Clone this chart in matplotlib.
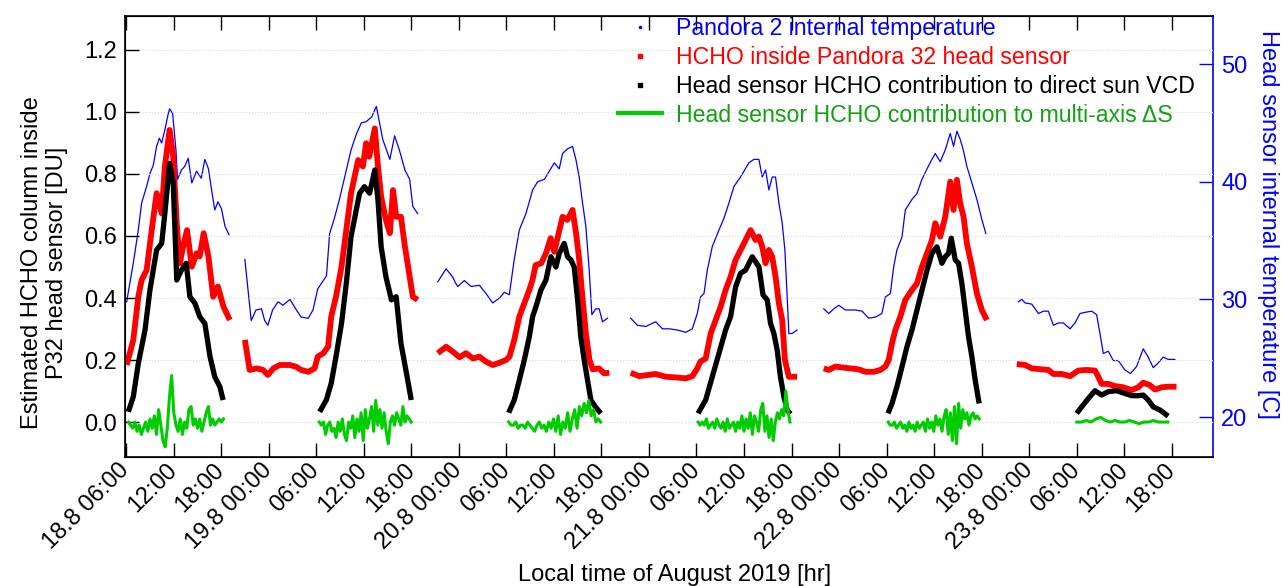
import numpy as np
import matplotlib
matplotlib.use("Agg")
from matplotlib import pyplot as plt
from matplotlib.lines import Line2D

# time axis: hours since 18.8.2019 00:00 local time
# each series is a list of segments, each segment a list of (hour, value)
temp_segments = [
    [(6.08, 29.8), (6.92, 33.1), (7.55, 35.9), (7.97, 38.2), (8.60, 39.6), (9.02, 40.7),
     (9.44, 41.4), (9.86, 43.0), (10.2, 43.7), (10.5, 43.3), (10.9, 44.4), (11.3, 45.7),
     (11.5, 46.2), (11.88, 45.8), (12.3, 42.7), (12.5, 40.2), (13.0, 41.0), (13.4, 41.3),
     (13.85, 42.0), (14.3, 39.9), (14.9, 40.9), (15.5, 40.3), (15.95, 41.9), (16.4, 41.1),
     (16.8, 39.3), (17.2, 37.6), (17.6, 38.3), (18.05, 37.7), (18.5, 36.2), (19.0, 35.5)],
    [(21.0, 33.4), (21.4, 30.8), (21.8, 28.2), (22.4, 29.1), (23.1, 29.2), (23.5, 28.2),
     (23.9, 27.8), (24.5, 29.1), (25.2, 29.8), (25.8, 29.5), (26.7, 30.0), (27.5, 29.1),
     (28.1, 28.5), (29.0, 28.4), (29.6, 29.1), (30.2, 30.9), (30.9, 31.6), (31.3, 32.0),
     (31.7, 35.6), (32.3, 36.9), (32.9, 38.4), (33.8, 41.0), (34.4, 42.7), (35.1, 44.1),
     (35.7, 45.0), (36.3, 45.1), (37.0, 45.5), (37.6, 46.4), (38.0, 45.0), (38.4, 43.6),
     (39.3, 41.9), (39.9, 43.9), (40.5, 42.7), (41.2, 41.0), (41.8, 40.2), (42.2, 37.9),
     (42.8, 37.3)],
    [(45.35, 31.5), (46.4, 32.6), (47.24, 31.9), (47.58, 31.4), (47.87, 31.1), (48.7, 31.6),
     (49.55, 31.1), (50.6, 31.2), (51.44, 30.5), (52.28, 29.7), (53.12, 30.1), (53.75, 30.6),
     (54.38, 30.4), (55.0, 33.4), (55.64, 35.9), (56.48, 37.3), (57.32, 39.3), (57.95, 40.0),
     (58.8, 40.2), (59.42, 40.9), (60.05, 41.6), (60.68, 41.1), (61.1, 42.4), (61.73, 42.8),
     (62.36, 43.0), (62.78, 41.9), (63.2, 40.4), (63.62, 38.2), (64.04, 36.2), (64.46, 32.5),
     (64.8, 28.7), (65.3, 29.2), (65.72, 29.2), (66.14, 28.1), (66.77, 28.4)],
    [(69.7, 28.4), (70.55, 27.8), (71.6, 27.7), (72.86, 28.1), (73.7, 27.5), (74.54, 27.5),
     (75.6, 27.4), (76.64, 27.2), (77.48, 27.5), (78.1, 28.8), (78.5, 30.2), (78.95, 30.5),
     (79.37, 32.5), (80.0, 34.5), (80.84, 35.9), (81.47, 36.9), (82.1, 38.2), (82.73, 39.6),
     (83.36, 40.2), (84.0, 40.9), (84.6, 41.6), (85.25, 41.9), (85.88, 41.9), (86.3, 40.4),
     (86.72, 41.0), (87.14, 39.3), (87.56, 40.4), (87.98, 40.4), (88.4, 38.2), (88.82, 36.5),
     (89.16, 34.2), (89.45, 30.2), (89.66, 27.1), (90.08, 27.1), (90.7, 27.4)],
    [(94.07, 29.2), (94.7, 28.8), (95.33, 29.2), (95.96, 29.5), (96.8, 29.1), (98.06, 29.1),
     (98.9, 29.0), (99.74, 28.4), (100.6, 28.5), (101.4, 28.8), (101.84, 30.2), (102.47, 30.5),
     (102.9, 32.8), (103.3, 34.2), (103.94, 35.3), (104.36, 37.6), (105.2, 38.5), (105.83, 39.0),
     (106.46, 40.2), (107.1, 41.1), (107.72, 41.9), (108.14, 42.4), (108.77, 41.7), (109.4, 42.7),
     (110.03, 44.1), (110.45, 43.0), (110.87, 44.3), (111.29, 43.6), (111.71, 42.6), (112.13, 41.3),
     (112.76, 39.9), (113.39, 38.5), (114.02, 36.8), (114.52, 35.6)],
    [(118.64, 29.8), (119.06, 30.0), (119.48, 29.7), (120.32, 29.6), (121.16, 28.8), (121.79, 29.0),
     (122.42, 29.0), (123.05, 27.8), (123.68, 28.0), (124.31, 28.0), (125.15, 27.5), (125.78, 28.0),
     (126.41, 28.8), (127.04, 28.9), (127.88, 29.0), (128.51, 28.7), (128.93, 27.1), (129.35, 25.4),
     (129.98, 25.6), (130.61, 24.8), (131.24, 24.8), (132.08, 24.0), (132.79, 23.7), (133.55, 24.3),
     (134.39, 25.8), (135.02, 25.1), (135.65, 24.2), (136.28, 24.6), (136.91, 25.1), (137.54, 24.9),
     (138.38, 24.9)],
]

inside_segments = [
    [(6.08, 0.184), (6.92, 0.265), (7.55, 0.404), (7.97, 0.458), (8.60, 0.49), (9.24, 0.619),
     (9.86, 0.738), (10.5, 0.673), (10.9, 0.824), (11.5, 0.942), (11.96, 0.856), (12.4, 0.641),
     (12.8, 0.512), (13.2, 0.566), (13.7, 0.619), (14.3, 0.501), (14.9, 0.544), (15.3, 0.534),
     (15.8, 0.609), (16.4, 0.534), (17.0, 0.404), (17.6, 0.437), (18.3, 0.372), (19.1, 0.329)],
    [(21.0, 0.265), (21.6, 0.168), (22.5, 0.173), (23.3, 0.168), (23.9, 0.152), (24.6, 0.173),
     (25.4, 0.184), (26.7, 0.184), (27.5, 0.178), (28.1, 0.168), (29.0, 0.162), (29.8, 0.173),
     (30.2, 0.211), (30.9, 0.222), (31.5, 0.243), (31.9, 0.34), (32.5, 0.404), (33.2, 0.501),
     (33.8, 0.619), (34.4, 0.738), (34.85, 0.791), (35.3, 0.845), (35.9, 0.824), (36.3, 0.899),
     (36.7, 0.856), (37.4, 0.947), (37.8, 0.824), (38.2, 0.727), (38.8, 0.652), (39.3, 0.609),
     (39.7, 0.748), (40.1, 0.662), (40.7, 0.662), (41.2, 0.566), (41.8, 0.469), (42.2, 0.404),
     (42.8, 0.394)],
    [(45.35, 0.222), (46.4, 0.243), (47.24, 0.227), (48.1, 0.209), (48.9, 0.222), (49.8, 0.205),
     (50.6, 0.211), (51.4, 0.195), (52.3, 0.184), (53.1, 0.191), (53.96, 0.2), (54.4, 0.211),
     (55.0, 0.265), (55.64, 0.34), (56.27, 0.383), (56.9, 0.426), (57.3, 0.458), (57.7, 0.506),
     (58.4, 0.512), (59.0, 0.544), (59.6, 0.593), (60.05, 0.549), (60.5, 0.598), (61.1, 0.662),
     (61.7, 0.652), (62.36, 0.684), (62.8, 0.609), (63.2, 0.523), (63.6, 0.404), (64.04, 0.286),
     (64.5, 0.2), (64.9, 0.17), (65.7, 0.173), (66.35, 0.157), (67.0, 0.159)],
    [(69.7, 0.159), (70.76, 0.148), (72.0, 0.152), (72.86, 0.155), (74.12, 0.146), (75.38, 0.144),
     (76.64, 0.141), (77.48, 0.148), (78.1, 0.173), (78.5, 0.195), (79.16, 0.205), (79.8, 0.286),
     (80.42, 0.329), (81.05, 0.372), (81.68, 0.426), (82.31, 0.469), (82.94, 0.523), (83.57, 0.555),
     (84.2, 0.587), (84.83, 0.619), (85.46, 0.587), (85.88, 0.598), (86.3, 0.565), (86.72, 0.512),
     (87.14, 0.555), (87.56, 0.533), (87.98, 0.469), (88.4, 0.383), (88.82, 0.329), (89.16, 0.2),
     (89.66, 0.146), (90.7, 0.146)],
    [(94.07, 0.173), (94.7, 0.168), (95.54, 0.179), (96.38, 0.176), (97.43, 0.173), (98.48, 0.17),
     (99.32, 0.162), (100.37, 0.162), (101.2, 0.168), (101.84, 0.179), (102.26, 0.2), (102.68, 0.254),
     (103.1, 0.297), (103.73, 0.34), (104.36, 0.394), (105.2, 0.426), (105.83, 0.447), (106.46, 0.501),
     (107.1, 0.544), (107.72, 0.587), (108.14, 0.641), (108.77, 0.598), (109.4, 0.662), (110.03, 0.775),
     (110.45, 0.684), (110.87, 0.781), (111.29, 0.705), (111.71, 0.662), (112.13, 0.576), (112.76, 0.501),
     (113.39, 0.415), (114.02, 0.361), (114.65, 0.329)],
    [(118.43, 0.187), (119.48, 0.184), (120.32, 0.173), (121.58, 0.17), (122.42, 0.168), (123.05, 0.155),
     (124.1, 0.155), (125.15, 0.148), (126.2, 0.166), (127.25, 0.168), (128.3, 0.166), (128.72, 0.146),
     (129.14, 0.123), (129.98, 0.123), (130.82, 0.116), (131.87, 0.112), (132.92, 0.103), (133.76, 0.112),
     (134.39, 0.127), (135.23, 0.119), (135.86, 0.105), (136.7, 0.112), (137.54, 0.114), (138.59, 0.114)],
]

direct_sun_segments = [
    [(6.29, 0.033), (6.92, 0.082), (7.55, 0.189), (8.4, 0.297), (9.02, 0.426), (9.86, 0.555),
     (10.5, 0.576), (10.9, 0.673), (11.5, 0.834), (11.96, 0.77), (12.4, 0.458), (13.0, 0.49),
     (13.6, 0.512), (14.06, 0.404), (14.7, 0.383), (15.3, 0.34), (15.95, 0.318), (16.6, 0.211),
     (17.2, 0.146), (17.84, 0.114), (18.26, 0.071)],
    [(30.44, 0.033), (31.28, 0.071), (31.9, 0.125), (32.5, 0.211), (33.2, 0.318), (33.8, 0.447),
     (34.4, 0.598), (35.06, 0.684), (35.48, 0.738), (36.1, 0.759), (36.74, 0.738), (37.4, 0.813),
     (37.8, 0.716), (38.2, 0.566), (38.8, 0.469), (39.5, 0.394), (40.1, 0.404), (40.7, 0.254),
     (41.4, 0.157), (42.0, 0.071)],
    [(54.3, 0.03), (55.0, 0.071), (55.64, 0.135), (56.27, 0.2), (56.9, 0.275), (57.32, 0.34),
     (57.74, 0.372), (58.37, 0.426), (59.0, 0.458), (59.63, 0.533), (60.26, 0.50), (60.68, 0.544),
     (61.31, 0.576), (61.73, 0.533), (62.15, 0.523), (62.57, 0.50), (63.0, 0.394), (63.4, 0.275),
     (63.83, 0.2), (64.25, 0.135), (64.67, 0.071), (65.3, 0.047), (65.93, 0.028)],
    [(78.2, 0.028), (79.16, 0.071), (80.0, 0.146), (80.84, 0.222), (81.68, 0.297), (82.31, 0.34),
     (82.94, 0.436), (83.57, 0.48), (84.2, 0.49), (85.04, 0.533), (85.88, 0.501), (86.4, 0.41),
     (86.93, 0.394), (87.35, 0.318), (87.77, 0.286), (88.19, 0.232), (88.6, 0.146), (89.03, 0.082),
     (89.45, 0.039), (89.87, 0.026)],
    [(102.18, 0.028), (102.68, 0.06), (103.3, 0.114), (103.94, 0.178), (104.57, 0.243), (105.2, 0.297),
     (105.83, 0.361), (106.46, 0.426), (107.1, 0.49), (107.72, 0.544), (108.35, 0.565), (108.98, 0.512),
     (109.4, 0.533), (109.82, 0.544), (110.16, 0.593), (110.66, 0.523), (111.08, 0.512), (111.5, 0.447),
     (111.92, 0.361), (112.34, 0.275), (112.76, 0.211), (113.18, 0.135), (113.68, 0.06)],
    [(125.99, 0.028), (126.62, 0.049), (127.46, 0.076), (128.3, 0.101), (129.14, 0.087), (129.98, 0.098),
     (131.03, 0.101), (132.08, 0.092), (132.92, 0.085), (133.76, 0.085), (134.39, 0.087), (135.02, 0.071),
     (135.65, 0.049), (136.49, 0.039), (137.54, 0.019)],
]

# multi-axis contribution, sampled evenly between start and end hour of each day
maxdoas_start = [6.3, 30.4, 54.3, 78.2, 102.2, 126.0]
maxdoas_end = [18.3, 42.0, 65.9, 89.8, 113.7, 137.5]
maxdoas_values = [
    [0.00, -0.01, -0.02, 0.00, -0.03, -0.01, -0.04, -0.02, 0.00, -0.03,
     0.01, -0.02, 0.02, -0.04, 0.04, -0.01, -0.06, -0.08, -0.02, 0.08,
     0.15, 0.03, -0.01, -0.03, 0.01, -0.04, 0.00, -0.02, 0.04, 0.05,
     -0.01, 0.01, -0.02, 0.01, -0.03, 0.00, 0.03, 0.05, -0.01, 0.01,
     -0.01, 0.00, 0.01, 0.00, 0.01],
    [0.00, -0.01, 0.00, -0.04, -0.01, 0.00, -0.03, -0.02, -0.05, 0.00,
     -0.03, 0.01, -0.04, -0.06, 0.00, -0.02, 0.02, -0.05, 0.01, -0.03,
     0.03, -0.06, 0.04, -0.02, 0.01, 0.05, -0.03, 0.07, -0.01, 0.04,
     -0.02, 0.03, -0.03, -0.07, 0.00, 0.02, -0.01, 0.03, 0.01, -0.01,
     0.05, 0.00, 0.02, 0.01, 0.00],
    [0.00, -0.01, -0.01, 0.00, -0.02, -0.01, -0.01, -0.02, 0.00, -0.01,
     -0.02, -0.03, -0.01, 0.00, -0.02, -0.01, -0.03, 0.00, -0.02, 0.01,
     -0.03, 0.02, -0.04, 0.00, -0.02, 0.03, -0.03, 0.01, 0.04, -0.02,
     0.05, 0.02, 0.06, 0.03, 0.07, 0.02, 0.04, 0.00, 0.01, 0.00],
    [0.00, -0.01, 0.00, -0.01, 0.01, -0.02, -0.01, 0.00, -0.02, 0.01,
     -0.01, -0.02, 0.00, -0.03, 0.01, -0.02, -0.01, 0.00, -0.03, 0.00,
     -0.02, 0.02, -0.03, 0.01, -0.02, 0.03, -0.04, 0.02, 0.00, -0.03,
     0.04, 0.06, -0.03, 0.02, -0.05, 0.01, -0.06, 0.00, 0.03, 0.01,
     0.04, 0.02, 0.10, 0.04, 0.00],
    [0.00, -0.01, -0.01, 0.00, -0.02, -0.01, 0.00, -0.02, -0.01, -0.03,
     0.00, -0.02, -0.01, -0.03, 0.00, -0.02, -0.01, 0.00, -0.03, 0.01,
     -0.02, 0.00, -0.03, 0.02, -0.01, 0.01, -0.03, 0.02, 0.04, -0.04,
     0.03, -0.06, 0.05, -0.07, 0.06, -0.02, 0.04, 0.01, 0.03, -0.01,
     0.02, 0.03, 0.01, 0.02, 0.01],
    [0.00, 0.00, 0.005, 0.00, 0.01, 0.015, 0.005, 0.00, 0.005, 0.00,
     0.00, 0.005, 0.00, -0.005, 0.00, 0.00, 0.005, 0.00, 0.00, 0.00],
]

xtick_hours = list(range(6, 139, 6))
left_ticks = [0.0, 0.2, 0.4, 0.6, 0.8, 1.0, 1.2]
right_ticks = [20, 30, 40, 50]

legend_labels = [
    "Pandora 2 internal temperature",
    "HCHO inside Pandora 32 head sensor",
    "Head sensor HCHO contribution to direct sun VCD",
    "Head sensor HCHO contribution to multi-axis \u0394S",
]


def join_segments(segments):
    t, v = [], []
    for seg in segments:
        for h, val in seg:
            t.append(h)
            v.append(val)
        t.append(np.nan)
        v.append(np.nan)
    return np.array(t), np.array(v)


def tick_label(h):
    day = 18 + h // 24
    hh = h % 24
    if h == xtick_hours[0] or hh == 0:
        return f"{day}.8 {hh:02d}:00"
    return f"{hh:02d}:00"


BLUE = "#0000ff"
RED = "#ff0000"
GREEN = "#00cc00"
GREEN_TEXT = "#14a014"
FS = 17

plt.rcParams["font.family"] = ["Liberation Sans", "DejaVu Sans"]

fig = plt.figure(figsize=(12.82, 5.86), dpi=100)
ax = fig.add_axes([0.0975, 0.22, 0.8487, 0.753])
ax2 = ax.twinx()
ax.set_zorder(ax2.get_zorder() + 1)
ax.patch.set_visible(False)

t, v = join_segments(temp_segments)
ax2.plot(t, v, color=BLUE, lw=0.9)

t, v = join_segments(inside_segments)
ax.plot(t, v, color=RED, lw=4.2, solid_capstyle="butt")

t, v = join_segments(direct_sun_segments)
ax.plot(t, v, color="black", lw=3.8, solid_capstyle="butt")

for start, end, vals in zip(maxdoas_start, maxdoas_end, maxdoas_values):
    ax.plot(np.linspace(start, end, len(vals)), vals, color=GREEN, lw=2.2)

ax.set_xlim(5.87, 143.2)
ax.set_ylim(-0.113, 1.31)
ax2.set_ylim(16.6, 54.1)

ax.set_xticks(xtick_hours)
ax.set_xticklabels([tick_label(h) for h in xtick_hours], rotation=45,
                   ha="right", va="center", rotation_mode="anchor")
ax.set_yticks(left_ticks)
ax.set_yticklabels([f"{y:.1f}" for y in left_ticks])
ax2.set_yticks(right_ticks)

ax.tick_params(axis="x", direction="in", length=10, width=1, top=True,
               labelsize=FS, pad=7)
ax.tick_params(axis="y", direction="in", length=10, width=1, labelsize=FS, pad=5.5)
ax2.tick_params(axis="y", direction="in", length=10, width=1, colors=BLUE,
                labelsize=FS, pad=6)
ax2.spines["right"].set_color(BLUE)
for s in ["left", "top", "bottom"]:
    ax.spines[s].set_linewidth(1.2)
ax2.spines["right"].set_linewidth(1.2)
ax.spines["right"].set_visible(False)

ax.grid(axis="y", color="#d8d8d8", ls=":", lw=0.8)

ax.set_ylabel("Estimated HCHO column inside\nP32 head sensor [DU]", fontsize=FS)
ax.yaxis.set_label_coords(-0.052, 0.44)
ax2.set_ylabel("Head sensor internal temperature [C]", fontsize=FS, color=BLUE,
               rotation=270, va="bottom")
ax2.yaxis.set_label_coords(1.04, 0.528)
ax.set_xlabel("Local time of August 2019 [hr]", fontsize=FS)
ax.xaxis.set_label_coords(0.505, -0.242)

handles = [
    Line2D([], [], color=BLUE, marker="o", ls="", markersize=1.5),
    Line2D([], [], color=RED, marker="s", ls="", markersize=3.5),
    Line2D([], [], color="black", marker="s", ls="", markersize=3),
    Line2D([], [], color=GREEN, lw=3),
]
leg = ax.legend(handles, legend_labels, loc="upper left", bbox_to_anchor=(0.453, 0.997),
                frameon=False, fontsize=16.7, borderaxespad=0, borderpad=0,
                handlelength=1.9, handletextpad=0.6, labelspacing=0.25)
for text, col in zip(leg.get_texts(), [BLUE, RED, "black", GREEN_TEXT]):
    text.set_color(col)

fig.savefig("out.png", dpi=100)
